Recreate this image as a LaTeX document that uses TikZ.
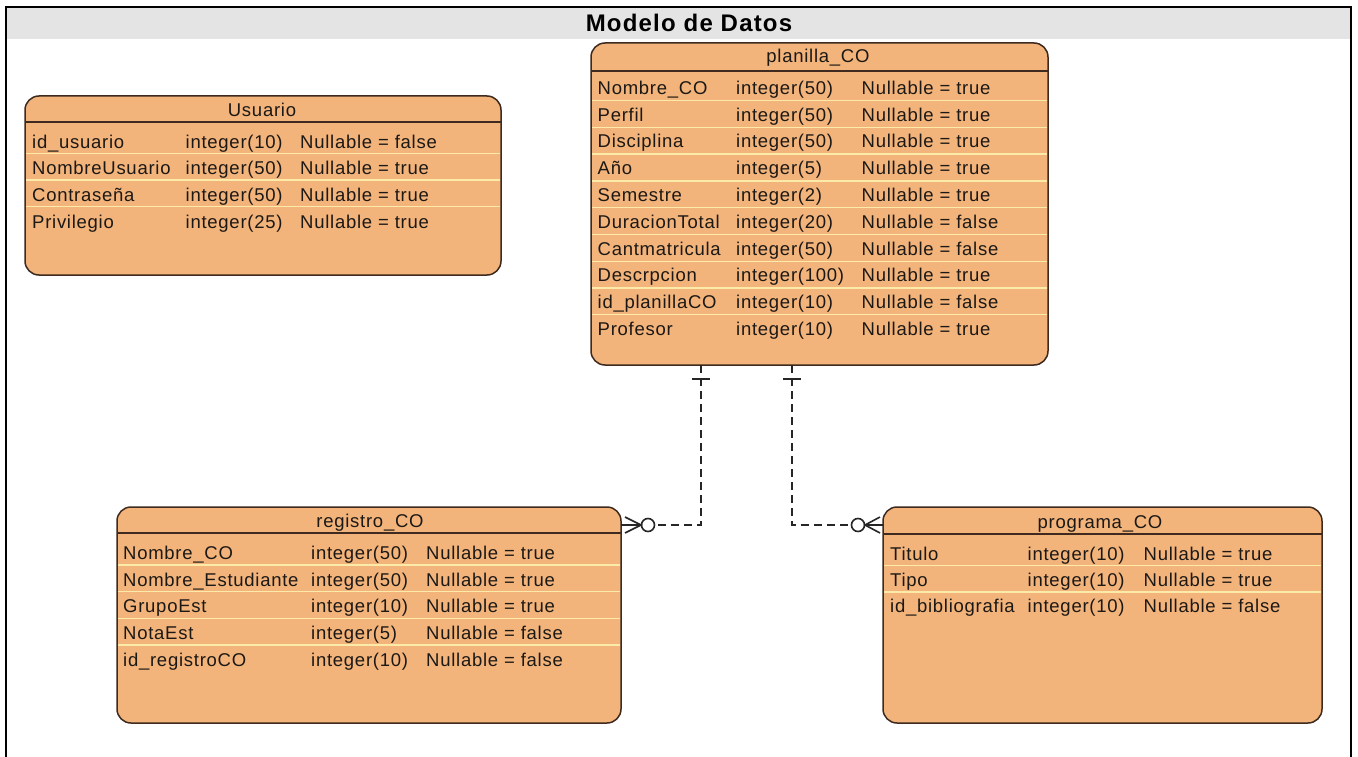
\documentclass[tikz,border=0pt]{standalone}
\usepackage{fontspec}
\setmainfont{Liberation Sans}
\newfontfamily\cellfont[LetterSpace=4]{Liberation Sans}
\newfontfamily\headfont[LetterSpace=5]{Liberation Sans}
\definecolor{tablefill}{RGB}{242,180,122}
\definecolor{tableline}{RGB}{62,42,30}
\definecolor{rowline}{RGB}{252,234,168}
\definecolor{barfill}{RGB}{228,228,228}
\definecolor{ink}{RGB}{28,24,22}

\begin{document}
\begin{tikzpicture}[x=1pt,y=-1pt,
  tablebox/.style={draw=tableline, fill=tablefill, line width=1.5pt,
    rounded corners=14pt, inner sep=0pt, outer sep=0pt, anchor=north west},
  tabletitle/.style={font=\cellfont\fontsize{18.5}{21}\selectfont, text=ink,
    anchor=base, inner sep=0pt},
  celltext/.style={font=\cellfont\fontsize{18.5}{21}\selectfont, text=ink,
    anchor=base west, inner sep=0pt},
  headrule/.style={draw=tableline, line width=1.5pt},
  rowrule/.style={draw=rowline, line width=1.4pt},
  relline/.style={draw=black!85, line width=1.3pt, dash pattern=on 8pt off 5pt},
  relmark/.style={draw=black!85, line width=1.6pt, solid},
]
\useasboundingbox (0,0) rectangle (1358,757);
\fill[white] (0,0) rectangle (1358,757);

% frame and title bar
\fill[barfill] (7,8) rectangle (1350,39);
\draw[line width=2.2pt] (6,757) -- (6,7) -- (1351,7) -- (1351,757);
\node[font=\headfont\bfseries\fontsize{24}{27}\selectfont, anchor=base, inner sep=0pt]
  (title) at (689,32) {Modelo de Datos};

% ---------- Usuario ----------
\node[tablebox, minimum width=476pt, minimum height=179pt] (usuario) at (25,96) {};
\draw[headrule] (25,122) -- (501,122);
\node[tabletitle] (usuario-title) at (262,116.5) {Usuario};
\foreach \k in {0,1,2}
  \draw[rowrule] (25.8,{153.3+26.7*\k}) -- (500.2,{153.3+26.7*\k});
\foreach \cn/\cty/\cnul [count=\k from 0] in {
    id\_usuario/integer(10)/Nullable = false,
    NombreUsuario/integer(50)/Nullable = true,
    Contraseña/integer(50)/Nullable = true,
    Privilegio/integer(25)/Nullable = true}{
  \node[celltext] (usuario-n\k) at (32,{148.3+26.7*\k}) {\cn};
  \node[celltext] (usuario-t\k) at (185.5,{148.3+26.7*\k}) {\cty};
  \node[celltext] (usuario-u\k) at (300,{148.3+26.7*\k}) {\cnul};
}

% ---------- planilla_CO ----------
\node[tablebox, minimum width=457pt, minimum height=322pt] (planilla) at (591,43) {};
\draw[headrule] (591,71) -- (1048,71);
\node[tabletitle] (planilla-title) at (818,63) {planilla\_CO};
\foreach \k in {0,...,8}
  \draw[rowrule] (591.8,{100.7+26.75*\k}) -- (1047.2,{100.7+26.75*\k});
\foreach \cn/\cty/\cnul [count=\k from 0] in {
    Nombre\_CO/integer(50)/Nullable = true,
    Perfil/integer(50)/Nullable = true,
    Disciplina/integer(50)/Nullable = true,
    Año/integer(5)/Nullable = true,
    Semestre/integer(2)/Nullable = true,
    DuracionTotal/integer(20)/Nullable = false,
    Cantmatricula/integer(50)/Nullable = false,
    Descrpcion/integer(100)/Nullable = true,
    id\_planillaCO/integer(10)/Nullable = false,
    Profesor/integer(10)/Nullable = true}{
  \node[celltext] (planilla-n\k) at (597.5,{94.5+26.75*\k}) {\cn};
  \node[celltext] (planilla-t\k) at (736,{94.5+26.75*\k}) {\cty};
  \node[celltext] (planilla-u\k) at (861.5,{94.5+26.75*\k}) {\cnul};
}

% ---------- registro_CO ----------
\node[tablebox, minimum width=504pt, minimum height=216pt] (registro) at (117,507) {};
\draw[headrule] (117,533) -- (621,533);
\node[tabletitle] (registro-title) at (370,527.5) {registro\_CO};
\foreach \k in {0,...,3}
  \draw[rowrule] (117.8,{565+26.7*\k}) -- (620.2,{565+26.7*\k});
\foreach \cn/\cty/\cnul [count=\k from 0] in {
    Nombre\_CO/integer(50)/Nullable = true,
    Nombre\_Estudiante/integer(50)/Nullable = true,
    GrupoEst/integer(10)/Nullable = true,
    NotaEst/integer(5)/Nullable = false,
    id\_registroCO/integer(10)/Nullable = false}{
  \node[celltext] (registro-n\k) at (123,{559.5+26.7*\k}) {\cn};
  \node[celltext] (registro-t\k) at (311,{559.5+26.7*\k}) {\cty};
  \node[celltext] (registro-u\k) at (426,{559.5+26.7*\k}) {\cnul};
}

% ---------- programa_CO ----------
\node[tablebox, minimum width=439pt, minimum height=216pt] (programa) at (883,507) {};
\draw[headrule] (883,534) -- (1322,534);
\node[tabletitle] (programa-title) at (1100,528) {programa\_CO};
\foreach \k in {0,1}
  \draw[rowrule] (883.8,{565.7+26.2*\k}) -- (1321.2,{565.7+26.2*\k});
\foreach \cn/\cty/\cnul [count=\k from 0] in {
    Titulo/integer(10)/Nullable = true,
    Tipo/integer(10)/Nullable = true,
    id\_bibliografia/integer(10)/Nullable = false}{
  \node[celltext] (programa-n\k) at (890,{560+26.2*\k}) {\cn};
  \node[celltext] (programa-t\k) at (1027.5,{560+26.2*\k}) {\cty};
  \node[celltext] (programa-u\k) at (1143.5,{560+26.2*\k}) {\cnul};
}

% ---------- relationships ----------
\path (planilla.south west) ++(110,0) coordinate (plA);
\path (planilla.south west) ++(201,0) coordinate (plB);
\path (registro.north east) ++(0,18) coordinate (regE);
\path (programa.north west) ++(0,18) coordinate (proW);
\path (regE) ++(27,0) coordinate (regO);
\path (proW) ++(-25,0) coordinate (proO);

% planilla_CO (one) -- registro_CO (zero or many)
\draw[relline] (plA) |- ([xshift=6.5pt]regO);
\draw[relmark, line width=1.3pt] (plA) ++(-9,14) -- ++(18,0);
\draw[relmark, fill=white] (regO) circle[radius=6.5pt];
\draw[relmark] (regE) ++(4,-8) -- ++(16,8) -- ++(-16,8);
\draw[relmark] (regE) -- ++(20,0);

% planilla_CO (one) -- programa_CO (zero or many)
\draw[relline] (plB) |- ([xshift=-6.5pt]proO);
\draw[relmark, line width=1.3pt] (plB) ++(-9,14) -- ++(18,0);
\draw[relmark, fill=white] (proO) circle[radius=6.5pt];
\draw[relmark] (proW) ++(-3,-8) -- ++(-15,8) -- ++(15,8);
\draw[relmark] (proW) -- ++(-18,0);
\end{tikzpicture}
\end{document}
